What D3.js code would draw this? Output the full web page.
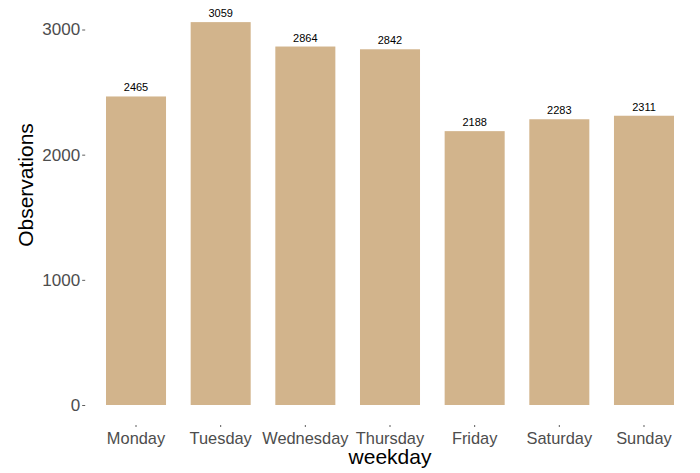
<!DOCTYPE html>
<html>
<head>
<meta charset="utf-8">
<script src="https://cdn.jsdelivr.net/npm/d3@7"></script>
<style>
  html, body { margin: 0; padding: 0; background: #fff; }
  svg { display: block; font-family: "Liberation Sans", Arial, Helvetica, sans-serif; }
</style>
</head>
<body>
<svg id="chart" width="700" height="473"></svg>
<script>
const categories = ["Monday", "Tuesday", "Wednesday", "Thursday", "Friday", "Saturday", "Sunday"];
const values = [2465, 3059, 2864, 2842, 2188, 2283, 2311];
const yTicks = [0, 1000, 2000, 3000];
const xTitle = "weekday";
const yTitle = "Observations";

const svg = d3.select("#chart");
const panel = { left: 85.2, right: 694.8, top: 3, bottom: 425 };

const y = d3.scaleLinear().domain([0, 3000]).range([405, 29.5]);

const x = d3.scaleBand()
  .domain(categories)
  .range([panel.left, panel.right])
  .paddingInner(0.291)
  .paddingOuter(0.2457);

// bars
svg.append("g").selectAll("rect")
  .data(values)
  .join("rect")
  .attr("x", (d, i) => x(categories[i]))
  .attr("width", x.bandwidth())
  .attr("y", d => y(d))
  .attr("height", d => y(0) - y(d))
  .attr("fill", "#D2B48C");

// value labels
svg.append("g").selectAll("text")
  .data(values)
  .join("text")
  .attr("x", (d, i) => x(categories[i]) + x.bandwidth() / 2)
  .attr("y", d => y(d) - 5)
  .attr("text-anchor", "middle")
  .attr("font-size", 11)
  .attr("fill", "#000")
  .text(d => d);

// y axis
const yAxis = d3.axisLeft(y).tickValues(yTicks).tickSize(3).tickPadding(2).tickFormat(d3.format("d"));
const gy = svg.append("g").attr("transform", `translate(${panel.left},0)`).call(yAxis);
gy.select(".domain").remove();
gy.selectAll(".tick line").attr("stroke", "#333").attr("stroke-width", 0.8);
gy.selectAll(".tick text").attr("font-size", 17).attr("fill", "#4D4D4D")
  .attr("font-family", "'Liberation Sans', Arial, sans-serif");

// x axis
const xAxis = d3.axisBottom(x).tickSize(2).tickPadding(6);
const gx = svg.append("g").attr("transform", `translate(0,${panel.bottom})`).call(xAxis);
gx.select(".domain").remove();
gx.selectAll(".tick line").attr("stroke", "#333").attr("stroke-width", 0.8);
gx.selectAll(".tick text").attr("font-size", 16.4).attr("fill", "#4D4D4D")
  .attr("font-family", "'Liberation Sans', Arial, sans-serif")
  .attr("dy", null).attr("y", 19);

// titles
svg.append("text")
  .attr("x", (panel.left + panel.right) / 2)
  .attr("y", 464)
  .attr("text-anchor", "middle")
  .attr("font-size", 21)
  .attr("fill", "#000")
  .text(xTitle);

svg.append("text")
  .attr("transform", "translate(33,185) rotate(-90)")
  .attr("text-anchor", "middle")
  .attr("font-size", 21)
  .attr("fill", "#000")
  .text(yTitle);
</script>
</body>
</html>
